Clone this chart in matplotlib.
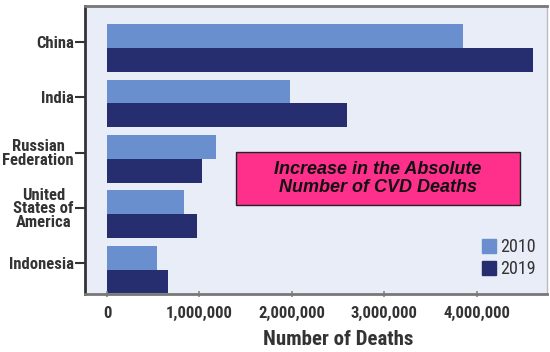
import numpy as np
import matplotlib
matplotlib.use('Agg')
import matplotlib.pyplot as plt
from matplotlib.ticker import FuncFormatter
from matplotlib.patches import Patch, Rectangle

# CVD deaths by country
countries = ['China', 'India', 'Russian\nFederation', 'United\nStates of\nAmerica', 'Indonesia']
deaths_2010 = [3850000, 1980000, 1180000, 830000, 540000]
deaths_2019 = [4610000, 2600000, 1030000, 970000, 660000]
years = ['2010', '2019']

c2010 = '#6a8fcf'
c2019 = '#262e70'
cond = ['Roboto Condensed', 'DejaVu Sans']
txt_col = '#333333'

fig = plt.figure(figsize=(5.5, 3.52), dpi=100)
ax = fig.add_axes([0.1545, 0.165, 0.84, 0.818])
ax.set_facecolor('#e9edf7')

pos = np.arange(len(countries))
h = 0.43
ax.barh(pos - h / 2, deaths_2010, height=h, color=c2010)
ax.barh(pos + h / 2, deaths_2019, height=h, color=c2019)

ax.set_ylim(4.44, -0.757)
ax.set_xlim(-238000, 4760000)

ax.set_yticks(pos - 0.11)
ax.set_yticklabels(countries, family=cond, fontweight='bold', fontsize=12,
                   color=txt_col, linespacing=0.88, multialignment='center')
ax.set_xticks([0, 1000000, 2000000, 3000000, 4000000])
ax.xaxis.set_major_formatter(FuncFormatter(lambda v, p: f'{int(v):,}'))
for lbl in ax.get_xticklabels():
    lbl.set_family(cond)
    lbl.set_fontweight('bold')
    lbl.set_fontsize(12)
    lbl.set_color(txt_col)

ax.tick_params(axis='y', length=7, width=1.5, color=txt_col, pad=1)
ax.tick_params(axis='x', length=4, width=1.2, color='#888888', pad=7,
               direction='inout')

ax.spines['left'].set_color(txt_col)
ax.spines['left'].set_linewidth(2)
ax.spines['bottom'].set_color('#777777')
ax.spines['bottom'].set_linewidth(2)
ax.spines['top'].set_color('#777777')
ax.spines['top'].set_linewidth(2)
ax.spines['right'].set_color('#bbbbbb')
ax.spines['right'].set_linewidth(1)

ax.set_xlabel('Number of Deaths', family=cond, fontweight='bold',
              fontsize=15, color=txt_col)
ax.xaxis.set_label_coords(0.548, -0.125)

handles = [Patch(color=c2010), Patch(color=c2019)]
fig.legend(handles, years, loc='upper left', frameon=False,
           prop={'family': cond, 'size': 13},
           handlelength=0.8, handleheight=0.8, handletextpad=0.2,
           labelspacing=0.22, borderpad=0, borderaxespad=0,
           bbox_to_anchor=(482 / 550, 1 - 238 / 352), labelcolor=txt_col)

# callout box
fig.add_artist(Rectangle((236 / 550, 1 - 205 / 352), 284 / 550, 53 / 352,
                         transform=fig.transFigure, facecolor='#ff2f8c',
                         edgecolor='#222222', linewidth=1, zorder=5))
fig.text(378 / 550, 1 - 178.5 / 352, 'Increase in the Absolute\nNumber of CVD Deaths',
         ha='center', va='center', fontsize=13, fontstyle='italic',
         fontweight='bold', family='Liberation Sans', color='#111111',
         linespacing=1.12, zorder=6)

fig.savefig('out.png', dpi=100)
